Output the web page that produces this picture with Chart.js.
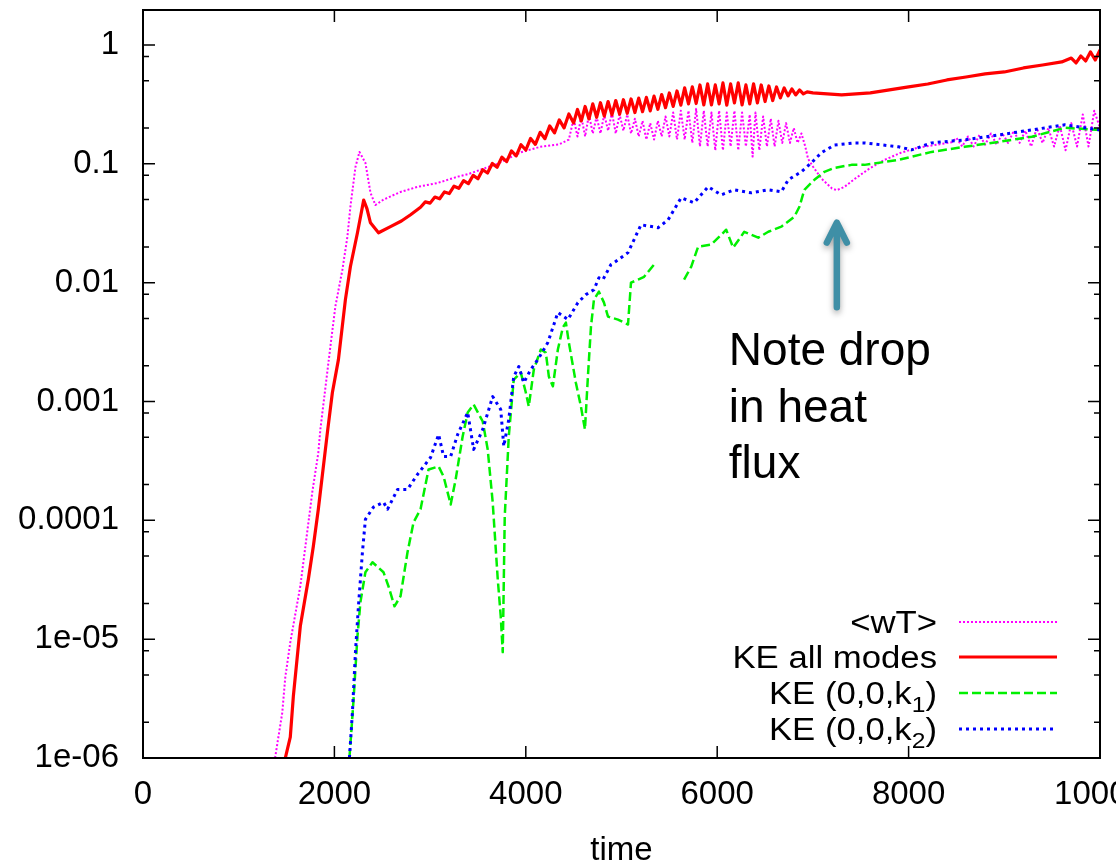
<!DOCTYPE html>
<html>
<head>
<meta charset="utf-8">
<script src="https://cdn.jsdelivr.net/npm/chart.js@4.4.1/dist/chart.umd.min.js"></script>
<style>
  html, body { margin: 0; padding: 0; background: #fff; }
  canvas { display: block; }
</style>
</head>
<body>
<canvas id="chart" width="1116" height="864"></canvas>
<script>
// axis ticks
const xTickValues = [0, 2000, 4000, 6000, 8000, 10000];
const yTickValues = [1e-6, 1e-5, 1e-4, 1e-3, 0.01, 0.1, 1];
const yTickLabels = ['1e-06', '1e-05', '0.0001', '0.001', '0.01', '0.1', '1'];
const yMinorFactors = [2, 5, 8];

const seriesLabels = ['<wT>', 'KE all modes', 'KE (0,0,k_1)', 'KE (0,0,k_2)'];

// <wT>  [time, value]
const wT = [
  [1380,1e-6],[1455,2.4e-6],[1487,4.8e-6],[1539,9.4e-6],[1644,2.8e-5],[1770,1.75e-4],[1832,3.7e-4],
  [1853,5.8e-4],[1958,2.9e-3],[2010,6.3e-3],[2084,1.29e-2],[2136,2.44e-2],[2167,4.35e-2],[2220,9.4e-2],
  [2262,0.126],[2324,0.102],[2377,0.057],[2429,0.045],[2513,0.050],[2691,0.058],[2869,0.064],[3078,0.069],
  [3288,0.078],[3400,0.082],[3700,0.100],[3950,0.125],[4150,0.139],[4350,0.146],[4450,0.160],
  [4500,0.24],[4540,0.17],[4580,0.25],[4620,0.17],[4660,0.26],[4700,0.18],[4740,0.25],[4780,0.18],
  [4820,0.26],[4860,0.19],[4900,0.27],[4940,0.18],[4980,0.26],[5020,0.19],[5060,0.26],[5100,0.18],
  [5140,0.24],[5180,0.17],[5220,0.23],[5260,0.16],[5300,0.22],[5340,0.16],[5380,0.23],[5420,0.17],
  [5460,0.25],[5500,0.17],[5540,0.27],[5580,0.16],[5620,0.28],[5660,0.16],[5700,0.28],[5740,0.15],
  [5780,0.29],[5820,0.14],[5860,0.28],[5900,0.14],[5940,0.27],[5980,0.13],[6020,0.28],[6060,0.13],
  [6100,0.27],[6140,0.14],[6180,0.28],[6220,0.13],[6260,0.27],[6300,0.14],[6340,0.26],[6370,0.115],
  [6400,0.27],[6440,0.13],[6480,0.25],[6520,0.14],[6560,0.24],[6600,0.14],[6640,0.23],[6680,0.15],
  [6720,0.22],[6760,0.15],[6800,0.20],[6840,0.15],[6880,0.18],[6920,0.14],
  [6950,0.11],[7000,0.095],[7090,0.075],[7200,0.062],[7250,0.060],[7330,0.064],[7430,0.074],
  [7580,0.090],[7750,0.108],[7920,0.124],[8100,0.137],[8300,0.145],[8450,0.152],
  [8500,0.165],[8560,0.14],[8620,0.17],[8680,0.14],[8740,0.175],[8800,0.145],[8860,0.18],[8920,0.145],
  [8980,0.18],[9040,0.15],[9100,0.19],[9160,0.15],[9220,0.19],[9280,0.14],[9340,0.20],[9400,0.15],
  [9460,0.20],[9520,0.14],[9580,0.21],[9640,0.13],[9700,0.22],[9760,0.14],[9820,0.26],[9880,0.14],
  [9940,0.28],[10000,0.20]
];

// KE all modes
const keAll = [
  [1487,1e-6],[1539,1.5e-6],[1571,3.3e-6],[1644,1.29e-5],[1728,3.2e-5],[1780,6.05e-5],[1832,1.24e-4],
  [1927,5.5e-4],[1979,1.19e-3],[2042,2.25e-3],[2115,7.2e-3],[2167,1.36e-2],[2241,2.63e-2],[2306,0.0495],
  [2340,0.042],[2377,0.0319],[2461,0.0263],[2586,0.0296],[2700,0.033],[2796,0.0373],
  [2900,0.0431],[2950,0.0478],[3000,0.0467],[3050,0.0525],[3100,0.0508],[3150,0.0580],[3200,0.0562],
  [3250,0.0648],[3300,0.0622],[3350,0.0722],[3400,0.0682],[3450,0.0799],[3500,0.0748],[3550,0.0892],
  [3600,0.0837],[3650,0.1008],[3700,0.0935],[3750,0.1136],[3800,0.1043],[3850,0.1284],[3900,0.1168],
  [3950,0.1447],[4000,0.1306],[4050,0.1634],[4100,0.1458],[4150,0.1842],[4200,0.1628],[4250,0.2086],
  [4300,0.1822],[4350,0.2343],[4400,0.2007],[4450,0.2631],[4500,0.2211],
  [4540,0.2865],[4580,0.2298],[4620,0.3037],[4660,0.2388],[4700,0.3193],[4740,0.2464],[4780,0.3268],
  [4820,0.2522],[4860,0.3345],[4900,0.2581],[4940,0.3410],[4980,0.2621],[5020,0.3463],[5060,0.2662],
  [5100,0.3517],[5140,0.2703],[5180,0.3572],[5220,0.2746],[5260,0.3628],[5300,0.2789],[5340,0.3713],
  [5380,0.2876],[5420,0.3830],[5460,0.2967],[5500,0.3950],[5540,0.3042],[5580,0.4105],[5620,0.3120],
  [5660,0.4352],[5700,0.3193],[5740,0.4437],[5780,0.3218],[5820,0.4611],[5860,0.3132],[5900,0.4703],
  [5940,0.3132],[5980,0.4611],[6020,0.3193],[6060,0.4795],[6100,0.3120],[6140,0.4703],[6180,0.3256],
  [6220,0.4795],[6260,0.3132],[6300,0.4611],[6340,0.3193],[6380,0.4703],[6420,0.3256],[6460,0.4611],
  [6500,0.3345],[6540,0.4523],[6580,0.3410],[6620,0.4437],[6660,0.3584],[6700,0.4352],[6740,0.3727],
  [6780,0.4269],[6820,0.3800],[6860,0.4185],[6900,0.3875],[6940,0.4030],
  [7000,0.395],[7150,0.388],[7300,0.380],[7450,0.388],[7600,0.395],[7800,0.419],[8000,0.444],
  [8200,0.470],[8400,0.508],[8600,0.538],[8800,0.571],[9000,0.593],[9200,0.641],[9400,0.679],
  [9600,0.720],[9700,0.777],[9750,0.706],[9800,0.808],[9850,0.734],[9900,0.874],[9950,0.748],[10000,0.908]
];

// KE (0,0,k1)  (null = gap in the record)
const keK1 = [
  [2157,1e-6],[2199,3.0e-6],[2241,1.06e-5],[2272,2.05e-5],[2324,3.66e-5],[2398,4.44e-5],[2513,3.66e-5],
  [2565,2.79e-5],[2628,1.89e-5],[2691,2.3e-5],[2764,5.39e-5],[2827,9.62e-5],[2900,1.24e-4],[2984,2.68e-4],
  [3089,2.84e-4],[3141,2.34e-4],[3215,1.36e-4],[3267,2.21e-4],[3340,5.08e-4],[3393,8.09e-4],[3455,9.44e-4],
  [3550,6.79e-4],[3602,3.95e-4],[3654,1.42e-4],[3707,3.19e-5],[3738,1.56e-5],[3759,7.78e-6],[3780,1.08e-4],
  [3822,5.08e-4],[3874,1.53e-3],[3948,1.75e-3],[4000,1.19e-3],[4031,9.08e-4],[4084,1.86e-3],[4157,2.74e-3],
  [4209,2.58e-3],[4241,1.62e-3],[4283,1.34e-3],[4335,2.74e-3],[4387,4.19e-3],[4419,4.61e-3],[4450,3.13e-3],
  [4523,1.44e-3],[4576,9.08e-4],[4618,5.82e-4],[4649,1.62e-3],[4681,4.27e-3],[4712,7.2e-3],[4764,8.4e-3],
  [4817,6.79e-3],[4859,5.18e-3],[4963,4.89e-3],[5068,4.44e-3],[5099,1.0e-2],[5173,1.06e-2],[5236,1.12e-2],
  [5340,1.42e-2],[5500,null],
  [5654,1.06e-2],[5728,1.36e-2],[5801,2.01e-2],[5937,2.09e-2],[6042,2.53e-2],[6094,2.79e-2],[6167,1.97e-2],
  [6283,2.68e-2],[6429,2.39e-2],[6534,2.68e-2],[6670,2.96e-2],[6806,3.59e-2],[6859,4.35e-2],[6911,6.05e-2],
  [7016,7.34e-2],[7120,8.57e-2],[7225,9.25e-2],[7403,9.8e-2],[7539,9.8e-2],[7895,0.108],[8241,0.126],
  [8586,0.139],[8942,0.153],[9288,0.169],[9633,0.201],[10000,0.193]
];

// KE (0,0,k2)
const keK2 = [
  [2157,1e-6],[2188,2.4e-6],[2220,7.8e-6],[2251,1.89e-5],[2293,5.4e-5],[2324,1.02e-4],[2408,1.29e-4],
  [2513,1.42e-4],[2555,1.24e-4],[2660,1.82e-4],[2764,1.82e-4],[2869,2.44e-4],[3005,3.38e-4],[3089,5.28e-4],
  [3141,3.45e-4],[3215,3.45e-4],[3288,5.28e-4],[3393,8.09e-4],[3455,3.95e-4],[3550,5.82e-4],[3654,1.10e-3],
  [3738,8.57e-4],[3770,4.19e-4],[3822,7.06e-4],[3874,1.62e-3],[3927,1.97e-3],[3979,1.44e-3],[4052,1.86e-3],
  [4126,2.25e-3],[4230,3.13e-3],[4335,5.6e-3],[4440,4.89e-3],[4544,6.79e-3],[4628,7.93e-3],[4712,8.73e-3],
  [4764,1.10e-2],[4806,1.06e-2],[4890,1.42e-2],[4921,1.47e-2],[5068,1.79e-2],[5204,3.07e-2],[5382,2.9e-2],
  [5487,3.38e-2],[5623,5.18e-2],[5759,4.7e-2],[5906,6.41e-2],[6042,5.48e-2],[6178,6.05e-2],[6356,5.7e-2],
  [6534,6.05e-2],[6670,5.82e-2],[6743,7.34e-2],[6879,8.57e-2],[6984,0.102],[7089,0.124],[7225,0.144],
  [7434,0.150],[7539,0.150],[7895,0.139],[8031,0.131],[8241,0.150],[8586,0.159],[8942,0.175],[9288,0.193],
  [9633,0.213],[10000,0.193]
];

const FONT = "'Liberation Sans', Arial, Helvetica, sans-serif";
const toXY = arr => arr.map(([x, y]) => ({ x, y }));

// frame with inward tick marks, as gnuplot draws them
const frameTicks = {
  id: 'frameTicks',
  afterDatasetsDraw(chart) {
    const { ctx, chartArea: a, scales: { x, y } } = chart;
    ctx.save();
    ctx.strokeStyle = '#000';
    ctx.lineWidth = 1.5;
    ctx.beginPath();
    yTickValues.forEach(v => {
      const py = y.getPixelForValue(v);
      ctx.moveTo(a.left, py); ctx.lineTo(a.left + 12, py);
      ctx.moveTo(a.right, py); ctx.lineTo(a.right - 12, py);
    });
    yTickValues.slice(0, -1).forEach(v => {
      yMinorFactors.forEach(f => {
        const py = y.getPixelForValue(v * f);
        ctx.moveTo(a.left, py); ctx.lineTo(a.left + 6, py);
        ctx.moveTo(a.right, py); ctx.lineTo(a.right - 6, py);
      });
    });
    xTickValues.forEach(v => {
      const px = x.getPixelForValue(v);
      ctx.moveTo(px, a.bottom); ctx.lineTo(px, a.bottom - 12);
      ctx.moveTo(px, a.top); ctx.lineTo(px, a.top + 12);
    });
    ctx.stroke();
    ctx.lineWidth = 2;
    ctx.strokeRect(a.left, a.top, a.right - a.left, a.bottom - a.top);
    ctx.restore();
  }
};

// key in the lower right, text right-aligned with line samples
function drawRich(ctx, text, right, base) {
  const sx = 1.12;
  const parts = [];
  text.split(/_(\d)/).forEach((t, i) => { if (t) parts.push({ t, sub: i % 2 === 1 }); });
  const fMain = `31px ${FONT}`, fSub = `22px ${FONT}`;
  let total = 0;
  parts.forEach(p => { ctx.font = p.sub ? fSub : fMain; p.w = ctx.measureText(p.t).width; total += p.w; });
  let cx = right - total * sx;
  parts.forEach(p => {
    ctx.save();
    ctx.font = p.sub ? fSub : fMain;
    ctx.translate(cx, base + (p.sub ? 8 : 0));
    ctx.scale(sx, 1);
    ctx.fillText(p.t, 0, 0);
    ctx.restore();
    cx += p.w * sx;
  });
}

const keyPlugin = {
  id: 'keyPlugin',
  afterDraw(chart) {
    const ctx = chart.ctx;
    const rows = [622, 657, 693, 729];
    ctx.save();
    ctx.fillStyle = '#000';
    ctx.textBaseline = 'alphabetic';
    chart.data.datasets.forEach((ds, i) => {
      drawRich(ctx, seriesLabels[i], 937, rows[i] + 11);
      ctx.beginPath();
      ctx.strokeStyle = ds.borderColor;
      ctx.lineWidth = ds.borderWidth;
      ctx.setLineDash(ds.borderDash || []);
      ctx.moveTo(959, rows[i]);
      ctx.lineTo(1057, rows[i]);
      ctx.stroke();
    });
    ctx.restore();
  }
};

// "Note drop in heat flux" annotation with arrow
const noteTime = 7250;
const noteLines = ['Note drop', 'in heat', 'flux'];
const notePlugin = {
  id: 'notePlugin',
  afterDraw(chart) {
    const { ctx, scales: { x, y } } = chart;
    const ax = x.getPixelForValue(noteTime);
    const top = y.getPixelForValue(0.032);
    const bot = y.getPixelForValue(0.0062);
    ctx.save();
    ctx.shadowColor = 'rgba(0,0,0,0.35)';
    ctx.shadowBlur = 6;
    ctx.shadowOffsetY = 3;
    ctx.strokeStyle = '#3f8fa6';
    ctx.lineWidth = 6.5;
    ctx.lineCap = 'round';
    ctx.lineJoin = 'round';
    ctx.beginPath();
    ctx.moveTo(ax, bot); ctx.lineTo(ax, top + 2);
    ctx.moveTo(ax - 10, top + 20); ctx.lineTo(ax, top); ctx.lineTo(ax + 10, top + 20);
    ctx.stroke();
    ctx.restore();
    ctx.save();
    ctx.fillStyle = '#000';
    ctx.font = `46px ${FONT}`;
    ctx.textAlign = 'left';
    noteLines.forEach((t, i) => ctx.fillText(t, ax - 108, bot + 58 + i * 56.5));
    ctx.restore();
  }
};

const tickFont = { family: FONT, size: 33 };

new Chart(document.getElementById('chart'), {
  type: 'line',
  data: {
    datasets: [
      { label: seriesLabels[0], data: toXY(wT), borderColor: '#ff00ff', borderWidth: 2, borderDash: [2, 2], borderJoinStyle: 'round', order: 4 },
      { label: seriesLabels[1], data: toXY(keAll), borderColor: '#ff0000', borderWidth: 3.2, borderJoinStyle: 'round', order: 3 },
      { label: seriesLabels[2], data: toXY(keK1), borderColor: '#00f000', borderWidth: 2.5, borderDash: [9, 4], borderJoinStyle: 'round', order: 2, spanGaps: false },
      { label: seriesLabels[3], data: toXY(keK2), borderColor: '#0000ff', borderWidth: 3, borderDash: [3, 4], borderJoinStyle: 'round', order: 1 }
    ]
  },
  options: {
    responsive: false,
    animation: false,
    devicePixelRatio: 1,
    layout: { padding: { top: 10, right: 16, left: 0, bottom: 0 }, autoPadding: false },
    plugins: { legend: { display: false }, tooltip: { enabled: false } },
    elements: { point: { radius: 0 }, line: { tension: 0, fill: false } },
    datasets: { line: { clip: 0 } },
    scales: {
      x: {
        type: 'linear', min: 0, max: 10000,
        afterBuildTicks: s => { s.ticks = xTickValues.map(v => ({ value: v })); },
        afterFit: s => { s.height = 106; s.paddingLeft = 0; s.paddingRight = 0; },
        ticks: { callback: v => String(v), font: tickFont, color: '#000', padding: 17, maxRotation: 0, autoSkip: false },
        grid: { display: false, drawTicks: false },
        border: { display: false },
        title: { display: true, text: 'time', font: tickFont, color: '#000', padding: { top: 0, bottom: -7 } }
      },
      y: {
        type: 'logarithmic', min: 1e-6, max: 1.97,
        afterBuildTicks: s => { s.ticks = yTickValues.map(v => ({ value: v })); },
        afterFit: s => { s.width = 143; s.paddingTop = 0; s.paddingBottom = 0; },
        ticks: { callback: v => yTickLabels[yTickValues.indexOf(v)], font: tickFont, color: '#000', padding: 24, autoSkip: false },
        grid: { display: false, drawTicks: false },
        border: { display: false }
      }
    }
  },
  plugins: [frameTicks, keyPlugin, notePlugin]
});
</script>
</body>
</html>
